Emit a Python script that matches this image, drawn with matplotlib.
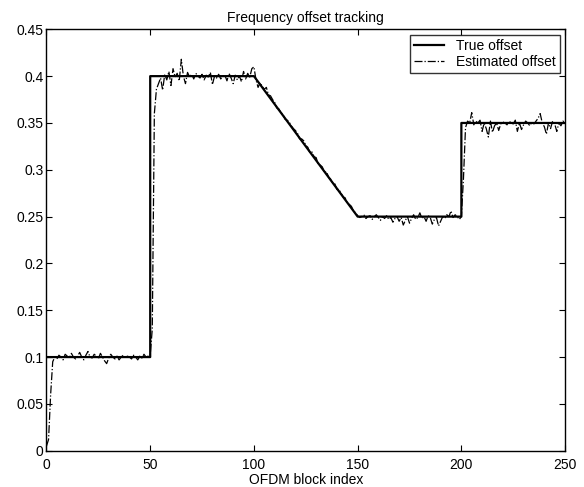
import numpy as np
import matplotlib
matplotlib.use('Agg')
import matplotlib.pyplot as plt

plt.rcParams['font.family'] = ['Liberation Sans', 'DejaVu Sans']

# True offset breakpoints (piecewise)
true_x = [0, 50, 50, 100, 150, 200, 200, 250]
true_y = [0.1, 0.1, 0.4, 0.4, 0.25, 0.25, 0.35, 0.35]

# Estimated offset, one value per OFDM block (0..250)
est_y = [
    0.005, 0.012, 0.06, 0.095, 0.1, 0.098, 0.102, 0.1, 0.097, 0.103,
    0.101, 0.099, 0.104, 0.1, 0.098, 0.101, 0.105, 0.1, 0.097, 0.102,
    0.106, 0.1, 0.099, 0.103, 0.101, 0.098, 0.104, 0.1, 0.096, 0.093,
    0.099, 0.103, 0.1, 0.098, 0.101, 0.097, 0.1, 0.102, 0.099, 0.101,
    0.1, 0.098, 0.102, 0.1, 0.097, 0.101, 0.099, 0.103, 0.1, 0.101,
    0.102, 0.13, 0.36, 0.386, 0.392, 0.398, 0.385, 0.402, 0.396, 0.405,
    0.39, 0.408, 0.399, 0.403, 0.395, 0.418, 0.4, 0.392, 0.404, 0.399,
    0.402, 0.397, 0.403, 0.4, 0.398, 0.402, 0.396, 0.401, 0.399, 0.404,
    0.391, 0.4, 0.398, 0.402, 0.397, 0.4, 0.401, 0.395, 0.403, 0.398,
    0.392, 0.401, 0.396, 0.4, 0.394, 0.405, 0.397, 0.403, 0.399, 0.408,
    0.41, 0.396, 0.388, 0.393, 0.389, 0.386, 0.388, 0.38, 0.379, 0.375,
    0.372, 0.366, 0.365, 0.361, 0.359, 0.354, 0.353, 0.351, 0.347, 0.344,
    0.342, 0.339, 0.333, 0.333, 0.331, 0.326, 0.324, 0.318, 0.319, 0.314,
    0.313, 0.306, 0.305, 0.303, 0.297, 0.298, 0.292, 0.29, 0.286, 0.285,
    0.279, 0.279, 0.275, 0.271, 0.27, 0.264, 0.263, 0.261, 0.256, 0.254,
    0.251, 0.249, 0.25, 0.252, 0.248, 0.25, 0.251, 0.247, 0.25, 0.252,
    0.249, 0.246, 0.25, 0.248, 0.251, 0.247, 0.249, 0.244, 0.248, 0.25,
    0.245, 0.249, 0.241, 0.246, 0.25, 0.243, 0.248, 0.252, 0.247, 0.249,
    0.254, 0.248, 0.25, 0.245, 0.251, 0.249, 0.242, 0.247, 0.249, 0.24,
    0.245, 0.25, 0.248, 0.252, 0.25, 0.256, 0.249, 0.252, 0.25, 0.247,
    0.25, 0.29, 0.345, 0.352, 0.35, 0.361, 0.348, 0.352, 0.35, 0.353,
    0.341, 0.35, 0.344, 0.335, 0.352, 0.34, 0.347, 0.35, 0.342, 0.349,
    0.351, 0.35, 0.348, 0.352, 0.35, 0.349, 0.353, 0.341, 0.35, 0.343,
    0.348, 0.352, 0.35, 0.347, 0.351, 0.349, 0.352, 0.355, 0.36, 0.35,
    0.346, 0.338, 0.35, 0.344, 0.352, 0.349, 0.341, 0.35, 0.347, 0.352,
    0.35,
]
est_x = np.arange(len(est_y))

xticks = [0, 50, 100, 150, 200, 250]
yticks = [0, 0.05, 0.1, 0.15, 0.2, 0.25, 0.3, 0.35, 0.4, 0.45]

fig = plt.figure(figsize=(5.84, 4.87), dpi=100)
ax = fig.add_axes([0.0796, 0.0745, 0.888, 0.8653])

ax.plot(true_x, true_y, color='black', linewidth=1.6, label='True offset')
ax.plot(est_x, est_y, color='black', linewidth=0.9, linestyle='-.',
        label='Estimated offset')

ax.set_xlim(0, 250)
ax.set_ylim(0, 0.45)
ax.set_xticks(xticks)
ax.set_xticklabels([str(t) for t in xticks])
ax.set_yticks(yticks)
ax.set_yticklabels(['0', '0.05', '0.1', '0.15', '0.2', '0.25', '0.3',
                    '0.35', '0.4', '0.45'])
ax.tick_params(direction='in', top=True, right=True, length=4,
               labelsize=10)
ax.tick_params(axis='y', pad=2)
ax.tick_params(axis='x', pad=5)
for s in ax.spines.values():
    s.set_linewidth(1.0)

ax.set_title('Frequency offset tracking', fontsize=10, pad=5)
ax.set_xlabel('OFDM block index', fontsize=10, labelpad=1)

leg = ax.legend(loc='upper right', fontsize=10, frameon=True, fancybox=False,
                borderpad=0.3, handlelength=2.2, labelspacing=0.15,
                borderaxespad=0.4)
leg.get_frame().set_edgecolor('black')
leg.get_frame().set_linewidth(1.0)

fig.savefig('out.png', dpi=100)
